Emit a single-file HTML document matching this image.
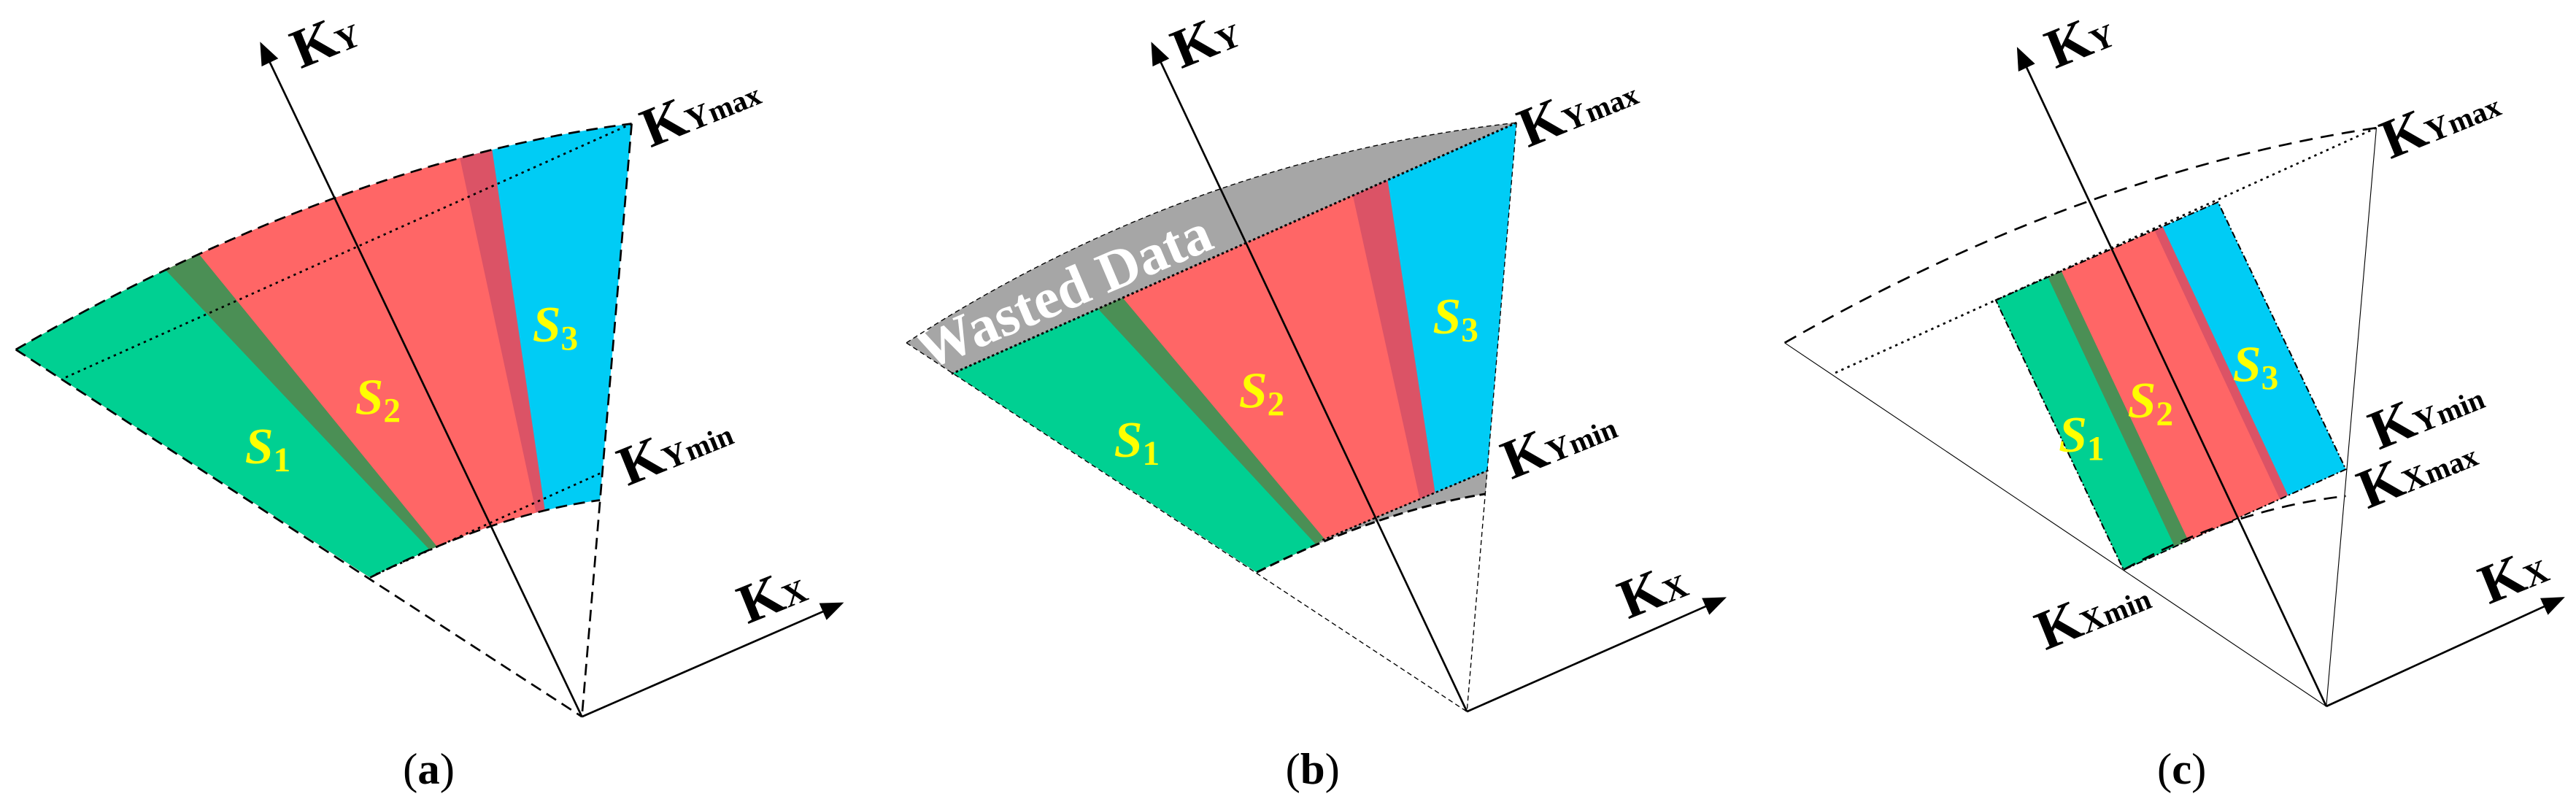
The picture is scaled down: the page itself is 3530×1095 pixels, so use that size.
<!DOCTYPE html>
<html><head><meta charset="utf-8"><style>html,body{margin:0;padding:0;background:#fff}svg{display:block}</style></head>
<body>
<svg width="3530" height="1095" viewBox="0 0 1568 486.4" preserveAspectRatio="none" xmlns="http://www.w3.org/2000/svg" font-family="'Liberation Serif',serif">
<defs>
<marker id="ar2" viewBox="0 0 10 10" refX="9" refY="5" markerWidth="14" markerHeight="14" markerUnits="userSpaceOnUse" orient="auto"><path d="M0,1 L10,5 L0,9 Z" fill="#000"/></marker>
<clipPath id="ca"><path d="M9.6,212.8 Q208.75,97.55 384.5,75.3 L365.2,304.5 Q303.15,312.35 225.3,351.6 Z"/></clipPath>
<clipPath id="cb"><path d="M551.7,208.7 Q723.6,96.9 923.1,74.7 L904.2,300.7 Q839.8,310.85 765,348.4 Z"/></clipPath>
<clipPath id="cb2"><polygon points="923.1,74.7 579.2,227.6 700,400 804.5,329 905.9,286.3"/></clipPath>
<clipPath id="cc"><polygon points="1214.8,182.7 1350.1,123 1427.9,285.7 1292.6,346.9"/></clipPath>
</defs>

<!-- Panel a -->
<g clip-path="url(#ca)">
<rect x="0" y="0" width="450" height="420" fill="#00CCF5"/>
<polygon points="-50,-20 284.45,-12 346.25,410 -50,420" fill="#DB5366"/>
<polygon points="-50,-20 257.95,-6.15 347.35,410.05 -50,420" fill="#FF6666"/>
<polygon points="48.2,65.1 337,419.9 -50,420 -50,65" fill="#4B8F55"/>
<polygon points="19.75,78.45 339.55,417.45 -50,420 -50,78" fill="#00D092"/>
</g>
<g fill="none" stroke="#000" stroke-width="1.2">
<path d="M9.6,212.8 Q208.75,97.55 384.5,75.3" stroke-dasharray="7,4"/>
<path d="M9.6,212.8 L354.2,436.3" stroke-dasharray="7,4"/>
<path d="M384.5,75.3 L354.2,436.3" stroke-dasharray="7,4"/>
<path d="M225.3,351.6 Q303.15,312.35 365.2,304.5" stroke-dasharray="7,4"/>
<path d="M384.5,75.3 L37.8,230.7" stroke-dasharray="1.5,2.5"/>
<path d="M365.2,288.2 L228,350" stroke-dasharray="1.5,2.5"/>
<path d="M354.2,436.3 L158.9,26.7" marker-end="url(#ar2)"/>
<path d="M354.2,436.3 L512.4,367.3" marker-end="url(#ar2)"/>
</g>

<!-- Panel b -->
<g clip-path="url(#cb)">
<rect x="540" y="60" width="400" height="300" fill="#A6A6A6"/>
<g clip-path="url(#cb2)">
<rect x="540" y="0" width="400" height="420" fill="#00CCF5"/>
<polygon points="500,-20 830.4,15.75 887.6,392.35 500,420" fill="#DB5366"/>
<polygon points="500,-20 803.1,26.6 884.3,395 500,420" fill="#FF6666"/>
<polygon points="623.05,109.15 867.25,401 500,420 500,109" fill="#4B8F55"/>
<polygon points="603.25,117.65 864.65,400.25 500,420 500,117" fill="#00D092"/>
</g>
</g>
<text transform="translate(652,188) rotate(-23)" text-anchor="middle" font-size="35" font-weight="bold" fill="#fff">Wasted Data</text>
<g fill="none" stroke="#000">
<path d="M551.7,208.7 Q723.6,96.9 923.1,74.7" stroke-width="0.6" stroke-dasharray="3,2"/>
<path d="M551.7,208.7 L892.9,433.2" stroke-width="0.6" stroke-dasharray="3,2"/>
<path d="M923.1,74.7 L892.9,433.2" stroke-width="0.6" stroke-dasharray="3,2"/>
<path d="M765,348.4 Q839.8,310.85 904.2,300.7" stroke-width="1.3" stroke-dasharray="6,3"/>
<path d="M923.1,74.7 L579.2,227.6" stroke-width="1.3" stroke-dasharray="1.5,1.5"/>
<path d="M905.9,286.3 L804.5,329" stroke-width="1.1" stroke-dasharray="1.5,1.5"/>
<path d="M892.9,433.2 L701.3,26.7" stroke-width="1.2" marker-end="url(#ar2)"/>
<path d="M892.9,433.2 L1049.7,364.1" stroke-width="1.2" marker-end="url(#ar2)"/>
</g>

<!-- Panel c -->
<g clip-path="url(#cc)">
<rect x="1200" y="100" width="240" height="260" fill="#00CCF5"/>
<polygon points="1150,100 1301,104.9 1407.5,333.3 1150,360" fill="#DB5366"/>
<polygon points="1150,100 1296,107.1 1402.5,335.5 1150,360" fill="#FF6666"/>
<polygon points="1150,100 1240.2,134.1 1346.7,360.3 1150,360" fill="#4B8F55"/>
<polygon points="1150,100 1231.7,137.2 1338.2,363.5 1150,360" fill="#00D092"/>
</g>
<g fill="none" stroke="#000">
<polygon points="1214.8,182.7 1350.1,123 1427.9,285.7 1292.6,346.9" stroke-width="0.9" stroke-dasharray="4,1.5,1,1.5"/>
<path d="M1086.3,208.7 Q1268,104.75 1446.5,77.8" stroke-width="1.2" stroke-dasharray="8,5"/>
<path d="M1292.6,346.9 Q1360.15,309.55 1427.9,302" stroke-width="1.2" stroke-dasharray="8,5"/>
<path d="M1086.3,208.7 L1416,430" stroke-width="0.5"/>
<path d="M1446.5,77.8 L1416,430" stroke-width="0.5"/>
<path d="M1446.5,77.8 L1115.7,227.6" stroke-width="1.2" stroke-dasharray="1.5,2.5"/>
<path d="M1416,430 L1228.3,29.8" stroke-width="1.2" marker-end="url(#ar2)"/>
<path d="M1416,430 L1560,364" stroke-width="1.2" marker-end="url(#ar2)"/>
</g>

<!-- S labels -->
<g font-weight="bold" fill="#FFFF00" text-anchor="middle" font-size="31">
<text x="163" y="282"><tspan font-style="italic">S</tspan><tspan font-size="21" dy="5">1</tspan></text>
<text x="230" y="252"><tspan font-style="italic">S</tspan><tspan font-size="21" dy="5">2</tspan></text>
<text x="338" y="208"><tspan font-style="italic">S</tspan><tspan font-size="21" dy="5">3</tspan></text>
<text x="692" y="278"><tspan font-style="italic">S</tspan><tspan font-size="21" dy="5">1</tspan></text>
<text x="768" y="248"><tspan font-style="italic">S</tspan><tspan font-size="21" dy="5">2</tspan></text>
<text x="886" y="203"><tspan font-style="italic">S</tspan><tspan font-size="21" dy="5">3</tspan></text>
<text x="1267" y="275"><tspan font-style="italic">S</tspan><tspan font-size="21" dy="5">1</tspan></text>
<text x="1309" y="254"><tspan font-style="italic">S</tspan><tspan font-size="21" dy="5">2</tspan></text>
<text x="1373" y="232"><tspan font-style="italic">S</tspan><tspan font-size="21" dy="5">3</tspan></text>
</g>

<!-- K labels -->
<g font-weight="bold" fill="#000" font-size="34">
<text transform="translate(183,42) rotate(-22)">K<tspan font-size="20">Y</tspan></text>
<text transform="translate(396,90) rotate(-22)">K<tspan font-size="20">Y</tspan><tspan font-size="18">max</tspan></text>
<text transform="translate(382,296) rotate(-22)">K<tspan font-size="20">Y</tspan><tspan font-size="18">min</tspan></text>
<text transform="translate(455,380) rotate(-22)">K<tspan font-size="20">X</tspan></text>

<text transform="translate(719,42) rotate(-22)">K<tspan font-size="20">Y</tspan></text>
<text transform="translate(930,90) rotate(-22)">K<tspan font-size="20">Y</tspan><tspan font-size="18">max</tspan></text>
<text transform="translate(920,292) rotate(-22)">K<tspan font-size="20">Y</tspan><tspan font-size="18">min</tspan></text>
<text transform="translate(991,377) rotate(-22)">K<tspan font-size="20">X</tspan></text>

<text transform="translate(1251,42) rotate(-22)">K<tspan font-size="20">Y</tspan></text>
<text transform="translate(1455,97) rotate(-22)">K<tspan font-size="20">Y</tspan><tspan font-size="18">max</tspan></text>
<text transform="translate(1448,274) rotate(-22)">K<tspan font-size="20">Y</tspan><tspan font-size="18">min</tspan></text>
<text transform="translate(1441,310) rotate(-22)">K<tspan font-size="20">X</tspan><tspan font-size="18">max</tspan></text>
<text transform="translate(1245,396) rotate(-22)">K<tspan font-size="20">X</tspan><tspan font-size="18">min</tspan></text>
<text transform="translate(1515,368) rotate(-22)">K<tspan font-size="20">X</tspan></text>
</g>

<g font-size="27" text-anchor="middle" fill="#000">
<text x="261" y="477">(<tspan font-weight="bold">a</tspan>)</text>
<text x="799" y="477">(<tspan font-weight="bold">b</tspan>)</text>
<text x="1328" y="477">(<tspan font-weight="bold">c</tspan>)</text>
</g>
</svg>
</body></html>
